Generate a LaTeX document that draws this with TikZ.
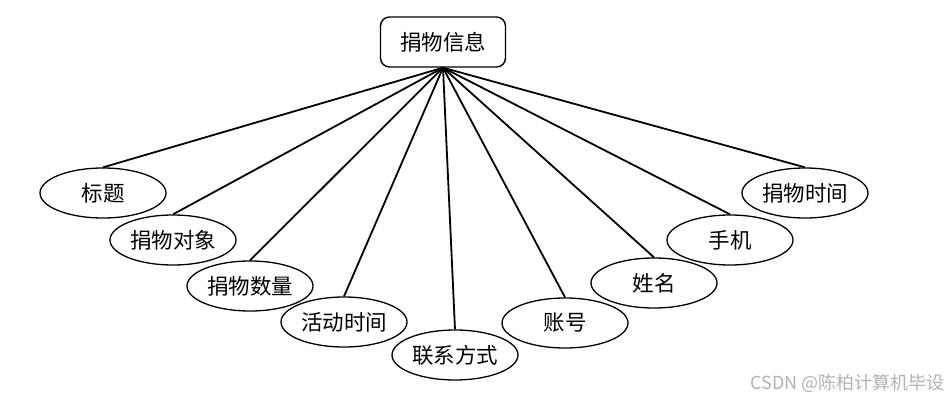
\documentclass[tikz,border=0pt]{standalone}
\usepackage{fontspec}
\setmainfont{Noto Sans CJK SC}
\usepackage{tikz}
\usetikzlibrary{shapes.geometric}

\begin{document}
\begin{tikzpicture}[
	x=1pt, y=-1pt,
	shiti/.style={draw, rounded corners=9pt, line width=1.4pt, minimum width=125pt, minimum height=50pt, inner sep=0pt, font=\fontsize{21.5pt}{24pt}\selectfont},
	shuxing/.style={draw, ellipse, fill=white, line width=1.3pt, minimum width=126pt, minimum height=50pt, inner sep=0pt, font=\fontsize{21.5pt}{24pt}\selectfont},
	lian/.style={line width=1.8pt}
	]
	\useasboundingbox (0,0) rectangle (951,401);

	\node[shiti] (xinxi) at (443,42) {捐物信息};

	\node[shuxing] (biaoti)   at (103,193) {标题};
	\node[shuxing] (duixiang) at (173,240) {捐物对象};
	\node[shuxing] (shuliang) at (250,286) {捐物数量};
	\node[shuxing] (huodong)  at (344,322) {活动时间};
	\node[shuxing] (lianxi)   at (455,355) {联系方式};
	\node[shuxing] (zhanghao) at (565,323) {账号};
	\node[shuxing] (xingming) at (654,283) {姓名};
	\node[shuxing] (shouji)   at (730,240) {手机};
	\node[shuxing] (shijian)  at (805,193) {捐物时间};

	\draw[lian] (xinxi.south) -- (biaoti.north);
	\draw[lian] (xinxi.south) -- (duixiang.north);
	\draw[lian] (xinxi.south) -- (shuliang.north);
	\draw[lian] (xinxi.south) -- (huodong.north);
	\draw[lian] (xinxi.south) -- (lianxi.north);
	\draw[lian] (xinxi.south) -- (zhanghao.north);
	\draw[lian] (xinxi.south) -- (xingming.north);
	\draw[lian] (xinxi.south) -- (shouji.north);
	\draw[lian] (xinxi.south) -- (shijian.north);

	\node[anchor=east, text=black!30, inner sep=0pt, font=\fontsize{18pt}{20pt}\selectfont] (shuiyin) at (945,383) {CSDN @陈柏计算机毕设};
\end{tikzpicture}
\end{document}
